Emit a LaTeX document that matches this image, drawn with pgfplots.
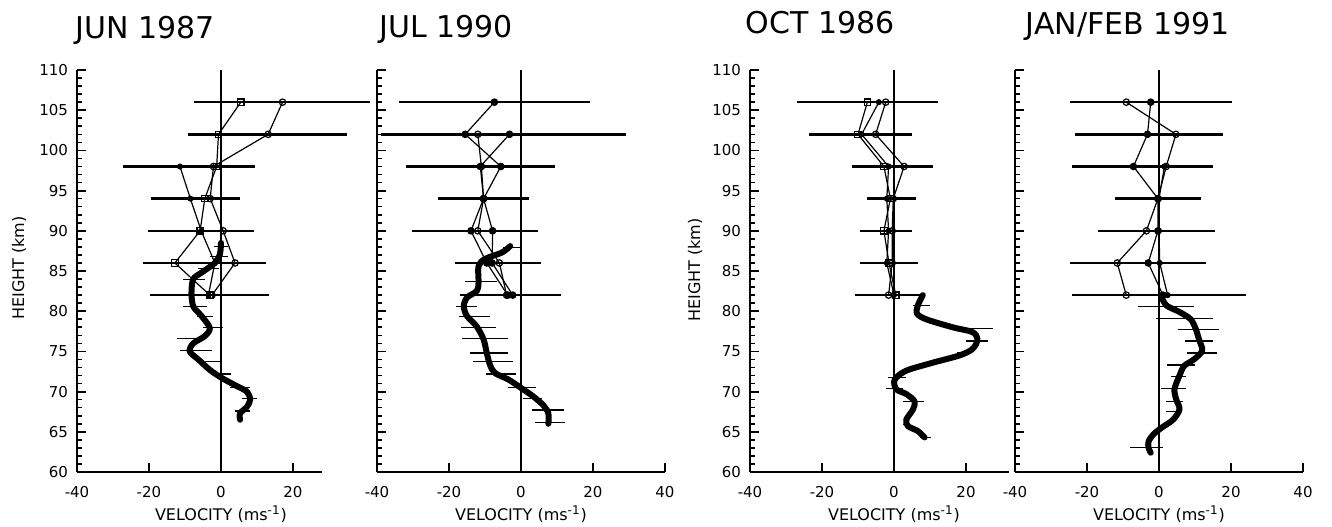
\documentclass[border=0pt]{standalone}
\usepackage{fontspec}
\setmainfont{DejaVu Sans}
\usepackage{pgfplots}
\pgfplotsset{compat=1.18}

\pgfplotsset{
  panel/.style={
    anchor=south west, x=1.8pt, y=4.02pt,
    xmin=-40, ymin=60, ymax=110,
    axis x line*=bottom, axis y line*=left,
    axis line style={line width=1pt, -},
    tick align=inside,
    xtick={-40,-20,0,20,40}, xticklabels={-40,-20,0,20,40},
    ytick={60,65,...,110},
    extra y ticks={61,62,63,64,66,67,68,69,71,72,73,74,76,77,78,79,81,82,83,84,
      86,87,88,89,91,92,93,94,96,97,98,99,101,102,103,104,106,107,108,109},
    extra y tick labels={},
    extra y tick style={major tick length=2.5pt, tick style={line width=0.8pt, black}},
    major tick length=4.5pt,
    tick style={line width=0.9pt, black},
    tick label style={font=\fontsize{7.5}{9}\selectfont},
    /pgf/number format/assume math mode=true,
    xticklabel style={anchor=base, yshift=-12.5pt},
    yticklabel style={xshift=-1pt},
    clip=false,
  },
  thin/.style={black, line width=0.6pt, mark size=1.6pt,
    error bars/x dir=both, error bars/x explicit, error bars/error mark=none,
    error bars/error bar style={line width=1.2pt, solid}},
  prof/.style={black, mark=none, line width=3pt, smooth, line cap=round, line join=round},
  proferr/.style={draw=none, mark=none,
    error bars/x dir=both, error bars/x explicit, error bars/error mark=none,
    error bars/error bar style={draw=black, line width=0.6pt}},
}
\newcommand{\vlab}{\fontsize{8}{9}\selectfont VELOCITY (ms\textsuperscript{-1})}

\begin{document}
\begin{tikzpicture}

% ---------- JUN 1987
\begin{axis}[panel, at={(38.5pt,27pt)}, xmax=28]
  \draw[line width=0.8pt] (axis cs:0,60) -- (axis cs:0,110);
  \addplot[thin, mark=square] coordinates {
    (5.5,106) +- (13,0) (-0.7,102) +- (8.6,0) (-1.2,98) +- (10.6,0)
    (-4.5,94) +- (9.8,0) (-5.8,90) +- (14,0) (-12.8,86) +- (8.8,0) (-3.1,82) +- (16.5,0)};
  \addplot[thin, mark=o] coordinates {
    (17.1,106) +- (24.3,0) (13.1,102) +- (21.8,0) (-2.1,98) +- (8,0)
    (-3,94) +- (8,0) (0.6,90) +- (8,0) (3.9,86) +- (8.5,0) (-2.5,82) +- (8,0)};
  \addplot[thin, mark=*, mark size=1.2pt] coordinates {
    (-11.4,98) +- (15.7,0) (-8.5,94) +- (10.9,0) (-5.5,90) +- (14.7,0)
    (-1.7,86) +- (12,0) (-3.5,82) +- (10,0)};
  \addplot[prof] coordinates {
    (0,88.5) (-0.3,87.1) (-1.7,86.0) (-5.4,84.8) (-7.7,84.0) (-8.2,82.3) (-7.7,80.6)
    (-5.4,79.4) (-3.1,77.9) (-4.5,76.9) (-7.7,76.0) (-8.7,75.0) (-6.3,74.0) (-3.1,72.7)
    (0.2,71.7) (3.9,70.8) (7.2,70.0) (8.1,69.0) (7.2,68.1) (5.3,67.3) (5.3,66.5)};
  \addplot[proferr] coordinates {
    (0,88.0) +- (2,0) (-0.5,86.8) +- (2.5,0) (-3.5,85.3) +- (3,0) (-7.5,83.9) +- (3,0)
    (-7.2,80.6) +- (3.3,0) (-4.4,79.3) +- (2.3,0) (-2.2,78.0) +- (2.8,0)
    (-8.2,76.6) +- (4,0) (-7,75.1) +- (4.4,0) (-3.4,73.7) +- (3,0) (0.4,72.2) +- (2.5,0)
    (5.3,70.5) +- (2.8,0) (7.8,69.1) +- (2.1,0) (6,67.6) +- (2,0)};
  \node[anchor=base] at (axis cs:0,60) [yshift=-24pt] {\vlab};
\end{axis}

% ---------- JUL 1990
\begin{axis}[panel, at={(188.5pt,27pt)}, xmax=40, yticklabels={}]
  \draw[line width=0.8pt] (axis cs:0,60) -- (axis cs:0,110);
  \addplot[thin, mark=*] coordinates {
    (-7.4,106) +- (26.6,0) (-15.5,102) +- (23.4,0) (-5.6,98) +- (14.4,0)
    (-10.4,94) +- (12.6,0) (-7.9,90) +- (12.5,0) (-8,86) +- (10,0) (-2.3,82) +- (13.3,0)};
  \addplot[thin, mark=*] coordinates {
    (-3.2,102) +- (32.4,0) (-11.3,98) +- (20.7,0) (-10.4,94) +- (10,0)
    (-13.9,90) +- (16.5,0) (-9.5,86) +- (8.7,0) (-3.7,82) +- (13.3,0)};
  \addplot[thin, mark=o] coordinates {
    (-12,102) +- (15,0) (-11,98) +- (10,0) (-10.4,94) +- (8,0)
    (-12,90) +- (10,0) (-6,86) +- (11.6,0) (-4,82) +- (8,0)};
  \addplot[prof] coordinates {
    (-3.0,88.1) (-5.3,87.3) (-10.0,86.5) (-11.8,85.6) (-11.8,83.5) (-12.3,82.5)
    (-15.0,81.7) (-15.9,80.6) (-15.0,79.4) (-12.3,78.1) (-10.4,76.5) (-9.5,74.8)
    (-8.6,73.3) (-7.2,72.3) (-3.5,71.5) (0.2,70.4) (3.4,69.4) (6.2,68.3) (7.6,67.3) (7.6,66.0)};
  \addplot[proferr] coordinates {
    (-2.5,87.9) +- (2.5,0) (-11.2,83.7) +- (4.4,0) (-15.2,80.6) +- (2.9,0)
    (-12.9,79.3) +- (4.3,0) (-11.8,78.0) +- (4.9,0) (-10,76.6) +- (6.3,0)
    (-8.9,74.8) +- (5.2,0) (-7.8,73.7) +- (5.5,0) (-5.6,72.2) +- (4.2,0)
    (0.2,70.5) +- (3.9,0) (3.2,69.1) +- (2.7,0) (7.5,67.7) +- (4.4,0) (8,66.2) +- (4.2,0)};
  \node[anchor=base] at (axis cs:0,60) [yshift=-24pt] {\vlab};
\end{axis}

% ---------- OCT 1986
\begin{axis}[panel, at={(375pt,27pt)}, xmax=32]
  \draw[line width=0.8pt] (axis cs:0,60) -- (axis cs:0,110);
  \addplot[thin, mark=square] coordinates {
    (-7.4,106) +- (19.6,0) (-10,102) +- (13.6,0) (-2.8,98) +- (8.8,0)
    (-1,94) +- (6.6,0) (-2.8,90) +- (6.6,0) (-1.4,86) +- (8,0) (0.5,82) +- (6,0)};
  \addplot[thin, mark=o] coordinates {
    (-2.3,106) +- (14.6,0) (-5.1,102) +- (10.2,0) (2.8,98) +- (8,0)
    (-0.2,94) +- (6.2,0) (-0.5,90) +- (5.6,0) (-0.5,86) +- (6.5,0) (-1.5,82) +- (9.4,0)};
  \addplot[thin, mark=*, mark size=1.2pt] coordinates {
    (-4.2,106) +- (10,0) (-9,102) +- (6,0) (-1.5,98) +- (6,0)
    (-2,94) +- (5,0) (-1.5,90) +- (5,0) (-2,86) +- (5,0) (0,82) +- (6,0)};
  \addplot[prof] coordinates {
    (8.0,82.0) (6.6,80.7) (6.4,79.7) (8.9,79.0) (16.3,78.0) (21.8,77.4) (23.2,76.5)
    (21.8,75.3) (18.2,74.5) (10.8,73.6) (3.4,72.6) (0.2,71.5) (0.6,70.3) (3.4,69.7)
    (5.7,68.8) (5.3,67.8) (3.4,66.5) (3.9,65.7) (6.6,65.1) (8.5,64.3)};
  \addplot[proferr] coordinates {
    (7.6,80.7) +- (2.3,0) (21.4,77.8) +- (6.2,0) (23,76.3) +- (3,0) (19.6,74.9) +- (2.1,0)
    (0.8,71.8) +- (2.5,0) (0.1,70.4) +- (2.3,0) (5.4,68.8) +- (3,0) (2.9,65.9) +- (0.5,0)
    (8.7,64.3) +- (1.6,0)};
  \node[anchor=base] at (axis cs:0,60) [yshift=-24pt] {\vlab};
\end{axis}

% ---------- JAN/FEB 1991
\begin{axis}[panel, at={(507.5pt,27pt)}, xmax=40, yticklabels={}]
  \draw[line width=0.8pt] (axis cs:0,60) -- (axis cs:0,110);
  \addplot[thin, mark=o] coordinates {
    (-9.1,106) +- (14,0) (4.7,102) +- (13,0) (2,98) +- (13,0)
    (-0.3,94) +- (12,0) (-3.5,90) +- (13.5,0) (-11.6,86) +- (13,0) (-9.1,82) +- (15,0)};
  \addplot[thin, mark=*] coordinates {
    (-2.3,106) +- (22.5,0) (-3.2,102) +- (20,0) (-7.1,98) +- (17,0)
    (-0.3,94) +- (10,0) (-0.3,90) +- (15.8,0) (-3,86) +- (15,0) (1.1,82) +- (23,0)};
  \addplot[thin, mark=*, mark size=1.2pt] coordinates {
    (1.5,98) +- (10,0) (0,94) +- (8,0) (0,90) +- (10,0) (0.2,86) +- (12.9,0) (2.4,82) +- (12,0)};
  \addplot[prof] coordinates {
    (0.7,81.75) (2.1,80.7) (5.7,79.9) (8.8,79.0) (10.2,77.8) (11.1,76.5) (12.0,75.1)
    (9.7,74.0) (7.0,73.2) (5.7,72.0) (4.3,70.3) (4.8,69.0) (5.7,67.8) (3.9,66.5)
    (0.7,65.5) (-1.5,64.7) (-2.9,63.8) (-2.9,63.0) (-2.3,62.4)};
  \addplot[proferr] coordinates {
    (2,80.6) +- (7.7,0) (7.1,79.1) +- (8,0) (10.9,77.7) +- (5.7,0) (11.2,76.3) +- (3.9,0)
    (11.9,74.8) +- (4.1,0) (6,73.3) +- (3.9,0) (5.4,71.9) +- (2,0) (4.1,70.4) +- (3.5,0)
    (4.3,68.8) +- (2.3,0) (4,67.5) +- (2,0) (-3.5,63.0) +- (4.5,0)};
  \node[anchor=base] at (axis cs:0,60) [yshift=-24pt] {\vlab};
\end{axis}

% titles and height labels
\node[anchor=base, font=\fontsize{15}{18}\selectfont] at (72.5pt,243.5pt) {JUN 1987};
\node[anchor=base, font=\fontsize{15}{18}\selectfont] at (223pt,244pt) {JUL 1990};
\node[anchor=base, font=\fontsize{15}{18}\selectfont] at (410pt,246pt) {OCT 1986};
\node[anchor=base, font=\fontsize{15}{18}\selectfont] at (564pt,245.5pt) {JAN/FEB 1991};
\node[rotate=90, font=\fontsize{8}{9}\selectfont] at (9.5pt,129pt) {HEIGHT (km)};
\node[rotate=90, font=\fontsize{8}{9}\selectfont] at (347.5pt,128pt) {HEIGHT (km)};

\pgfresetboundingbox
\useasboundingbox (0,0) rectangle (666pt,263pt);
\end{tikzpicture}
\end{document}
